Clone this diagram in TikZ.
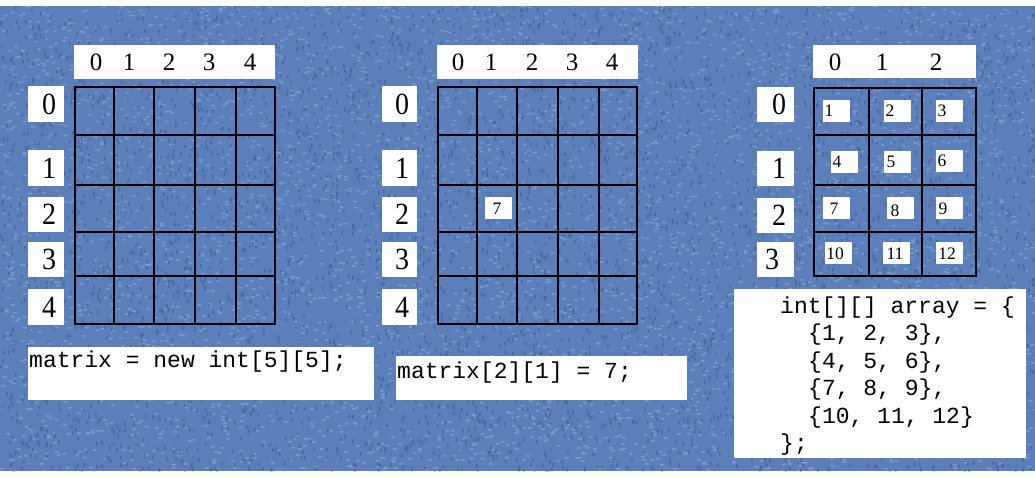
\documentclass[tikz,border=0pt]{standalone}
\usepackage{fontspec}
\setmainfont{Liberation Serif}
\setmonofont{Liberation Mono}
\definecolor{bg}{RGB}{92,127,186}
\definecolor{bglight}{RGB}{165,195,240}
\definecolor{bgdark}{RGB}{40,65,118}
\newcommand{\tallB}[1]{\scalebox{1}[1.1]{#1}}
\begin{document}
\begin{tikzpicture}[x=1pt,y=-1pt,
  wbox/.style={fill=white,draw=none,inner sep=0pt,anchor=north west},
  lbl/.style={font=\fontsize{25}{25}\selectfont,inner sep=0pt},
  rlbl/.style={font=\fontsize{28}{28}\selectfont,inner sep=0pt},
  small/.style={font=\fontsize{17.5}{17.5}\selectfont,inner sep=0pt},
  code/.style={font=\ttfamily\fontsize{23}{27.5}\selectfont,inner sep=0pt,anchor=base west},
  gridline/.style={line width=1.6pt,black}]
\useasboundingbox (0,0) rectangle (1035,478);
% background
\fill[white] (0,0) rectangle (1035,478);
\fill[bg] (0,6) rectangle (1035,471);
\pgfmathsetseed{7}
\begin{scope}
\clip (0,6) rectangle (1035,471);
\fill[bglight,opacity=0.4] \foreach \i in {1,...,4500}{
  ({random(0,1035)},{random(6,471)}) rectangle ++(3.5,1.5)};
\fill[bgdark,opacity=0.35] \foreach \i in {1,...,4500}{
  ({random(0,1035)},{random(6,471)}) rectangle ++(1.5,3.5)};
\end{scope}

% ===== Grid 1 =====
\node[wbox,minimum width=201pt,minimum height=34pt] (hdrA) at (74,45) {};
\node[lbl] (hA0) at (96,62) {0};
\node[lbl] (hA1) at (129,62) {1};
\node[lbl] (hA2) at (169,62) {2};
\node[lbl] (hA3) at (209,62) {3};
\node[lbl] (hA4) at (250,62) {4};
\foreach \n/\t/\b in {0/86/122,1/150/186,2/197/232,3/242/277,4/289/325}{
  \node[wbox,minimum width=36pt,minimum height={(\b-\t)*1pt}] (rA\n) at (28,\t) {};
  \node[rlbl] (rAt\n) at (49,{(\t+\b)/2}) {\tallB{\n}};
}
\draw[gridline] (75,87) rectangle (275,324);
\foreach \x in {114,154,195,236} \draw[gridline] (\x,87) -- (\x,324);
\foreach \y in {135,185,232,276} \draw[gridline] (75,\y) -- (275,\y);
\node[wbox,minimum width=346pt,minimum height=53pt] (codeA) at (28,347) {};
\node[code] (codeAt) at (29,367) {matrix = new int[5][5];};

% ===== Grid 2 =====
\node[wbox,minimum width=201pt,minimum height=34pt] (hdrB) at (437,45) {};
\node[lbl] (hB0) at (458,62) {0};
\node[lbl] (hB1) at (491,62) {1};
\node[lbl] (hB2) at (532,62) {2};
\node[lbl] (hB3) at (572,62) {3};
\node[lbl] (hB4) at (612,62) {4};
\foreach \n/\t/\b in {0/86/122,1/150/186,2/197/232,3/242/277,4/289/325}{
  \node[wbox,minimum width=35pt,minimum height={(\b-\t)*1pt}] (rB\n) at (382,\t) {};
  \node[rlbl] (rBt\n) at (402,{(\t+\b)/2}) {\tallB{\n}};
}
\node[wbox,minimum width=27pt,minimum height=22pt] (sevenbox) at (485,197) {};
\node[small] (seven) at (497,209) {7};
\draw[gridline] (438,87) rectangle (637,324);
\foreach \x in {477,517,558,599} \draw[gridline] (\x,87) -- (\x,324);
\foreach \y in {135,185,232,276} \draw[gridline] (438,\y) -- (637,\y);
\node[wbox,minimum width=291pt,minimum height=44pt] (codeB) at (396,356) {};
\node[code] (codeBt) at (397,378) {matrix[2][1] = 7;};

% ===== Grid 3 =====
\node[wbox,minimum width=163pt,minimum height=33pt] (hdrC) at (813,45) {};
\node[lbl] (hC0) at (835,62) {0};
\node[lbl] (hC1) at (882,62) {1};
\node[lbl] (hC2) at (936,62) {2};
\foreach \n/\t/\b/\xx in {0/87/122/779,1/151/186/779,2/198/233/779,3/242/277/772}{
  \node[wbox,minimum width=37pt,minimum height={(\b-\t)*1pt}] (rC\n) at (757,\t) {};
  \node[rlbl] (rCt\n) at (\xx,{(\t+\b)/2}) {\tallB{\n}};
}
\foreach \v/\bx/\by/\tx/\ty in {1/823/100/829/111, 2/884/100/890/111, 3/936/100/942/111,
  4/831/151/837/162, 5/884/151/891/162, 6/936/150/942/161,
  7/823/197/834/209, 8/887/197/895/211, 9/936/197/943/209,
  10/825/242/835/254, 11/883/242/895/254, 12/936/242/947/254}{
  \node[wbox,minimum width=27pt,minimum height=22pt] (nb\v) at (\bx,\by) {};
  \node[small] (nt\v) at (\tx,\ty) {\v};
}
\draw[gridline] (814,88) rectangle (976,276);
\foreach \x in {869,922} \draw[gridline] (\x,88) -- (\x,276);
\foreach \y in {135,185,232} \draw[gridline] (814,\y) -- (976,\y);
\node[wbox,minimum width=292pt,minimum height=169pt] (codeC) at (734,289) {};
\node[code] (cl1) at (780,313) {int[][] array = \{};
\node[code] (cl2) at (808,340.5) {\{1, 2, 3\},};
\node[code] (cl3) at (808,368) {\{4, 5, 6\},};
\node[code] (cl4) at (808,395.5) {\{7, 8, 9\},};
\node[code] (cl5) at (808,423) {\{10, 11, 12\}};
\node[code] (cl6) at (780,450.5) {\};};
\end{tikzpicture}
\end{document}
